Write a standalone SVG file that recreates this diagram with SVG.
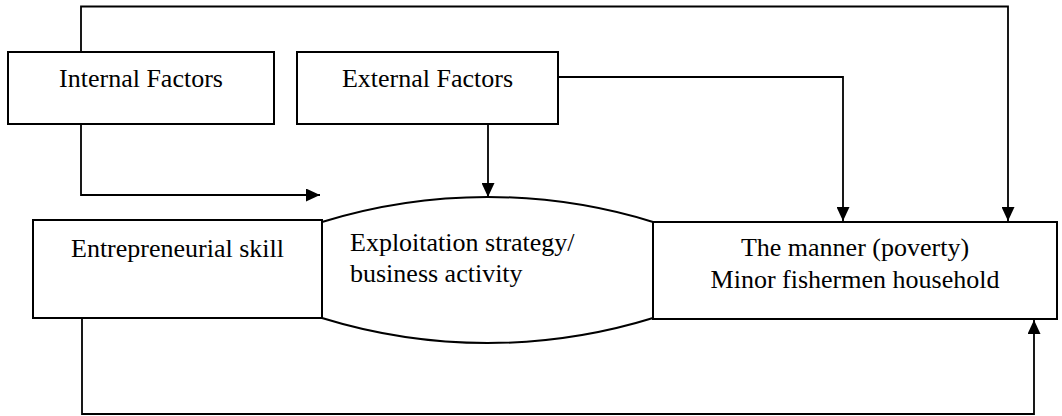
<svg xmlns="http://www.w3.org/2000/svg" width="1062" height="416" viewBox="0 0 1062 416">
<style>
.box{fill:#fff;stroke:#000;stroke-width:2}
.t{font-family:"Liberation Serif","Times New Roman",serif;font-size:26px;fill:#000}
.c{fill:none;stroke:#000;stroke-width:1.8}
</style>
<defs>
<marker id="ah" markerWidth="14" markerHeight="13" refX="14" refY="6.5" orient="auto" markerUnits="userSpaceOnUse">
<path d="M0,0 L14,6.5 L0,13 Z" fill="#000"/>
</marker>
</defs>
<rect width="1062" height="416" fill="#fff"/>
<g id="connectors">
<path class="c" d="M81,52 V6.5 H1008 V221" marker-end="url(#ah)"/>
<path class="c" d="M81,124 V195 H320" marker-end="url(#ah)"/>
<path class="c" d="M488,124 V197" marker-end="url(#ah)"/>
<path class="c" d="M558,77 H843 V221" marker-end="url(#ah)"/>
<path class="c" d="M82,318 V414 H1034 V320" marker-end="url(#ah)"/>
</g>
<g id="internal">
<rect class="box" x="8" y="52" width="266" height="72"/>
<text class="t" x="141" y="87" text-anchor="middle">Internal Factors</text>
</g>
<g id="external">
<rect class="box" x="297" y="52" width="261" height="72"/>
<text class="t" x="427.5" y="87" text-anchor="middle">External Factors</text>
</g>
<g id="exploitation">
<path class="box" d="M322,222 A560,560 0 0 1 653,222 V318 A560,560 0 0 1 322,318 Z"/>
<text class="t" x="350" y="251">Exploitation strategy/</text>
<text class="t" x="350" y="282">business activity</text>
</g>
<g id="entrepreneurial">
<rect class="box" x="33" y="220" width="289" height="98"/>
<text class="t" x="177.5" y="257" text-anchor="middle">Entrepreneurial skill</text>
</g>
<g id="manner">
<rect class="box" x="653" y="222" width="404" height="97"/>
<text class="t" x="855" y="256" text-anchor="middle">The manner (poverty)</text>
<text class="t" x="855" y="288" text-anchor="middle">Minor fishermen household</text>
</g>
</svg>
